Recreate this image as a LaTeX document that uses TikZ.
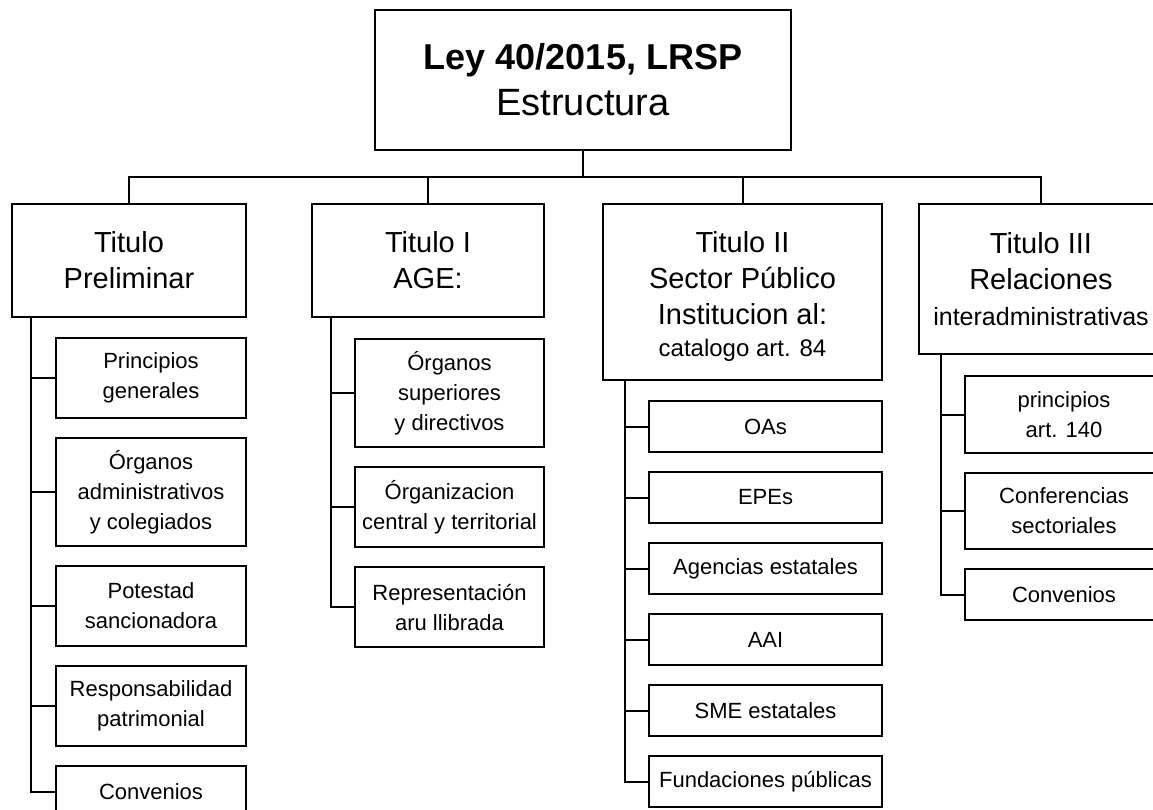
\documentclass[tikz,border=0pt]{standalone}
\usepackage{fontspec}
\setmainfont{Liberation Sans}
\usetikzlibrary{positioning}

\begin{document}
\begin{tikzpicture}[
    x=1pt, y=-1pt,
    node distance=18pt,
    line width=2pt,
    head/.style={
      rectangle,
      draw=black,
      align=center,
      minimum width=416pt,
      minimum height=140pt,
      font=\fontsize{38}{46}\selectfont
    },
    titulo/.style={
      rectangle,
      draw=black,
      align=center,
      anchor=north,
      inner sep=2pt,
      font=\fontsize{29}{36}\selectfont
    },
    item/.style={
      rectangle,
      draw=black,
      align=center,
      inner sep=2pt,
      minimum width=#1,
      minimum height=51pt,
      font=\fontsize{22}{30}\selectfont
    },
    two/.style={minimum height=80pt},
    three/.style={minimum height=108pt}
  ]

    % Frame of the picture
    \useasboundingbox (0,0) rectangle (1153,809);
    \clip (0,0) rectangle (1153,809);

    % Top: the law
    \node (ley) [head] at (583,80) {{\fontsize{36}{46}\selectfont\bfseries Ley 40/2015, LRSP}\\Estructura};

    % Second row: the four titles
    \node (preliminar) [titulo, minimum width=234pt, minimum height=113pt] at (129,203) {Titulo\\Preliminar};
    \node (age) [titulo, minimum width=232pt, minimum height=113pt] at (428,203) {Titulo I\\AGE:};
    \node (sector) [titulo, minimum width=279pt, minimum height=176pt] at (742.5,203)
      {\rule{0pt}{30pt}Titulo II\\Sector Público\\Institucion al:\\[-4pt]{\fontsize{24}{30}\selectfont catalogo art. 84}};
    \node (relaciones) [titulo, minimum width=244pt, minimum height=150pt] at (1041,203)
      {Titulo III\\Relaciones\\{\fontsize{25}{30}\selectfont interadministrativas}};

    % Titulo Preliminar
    \node (principios) [item=190pt, two, below=19pt of preliminar.south east, anchor=north east] {Principios\\generales};
    \node (organos) [item=190pt, three, below=of principios] {Órganos\\administrativos\\y colegiados};
    \node (potestad) [item=190pt, two, below=of organos] {Potestad\\sancionadora};
    \node (responsabilidad) [item=190pt, two, below=of potestad] {Responsabilidad\\patrimonial};
    \node (convenios) [item=190pt, below=of responsabilidad] {Convenios};

    % Titulo I
    \node (superiores) [item=189pt, three, below=20pt of age.south east, anchor=north east] {Órganos\\superiores\\y directivos};
    \node (organizacion) [item=189pt, two, below=of superiores] {Órganizacion\\central y territorial};
    \node (representacion) [item=189pt, two, below=of organizacion] {Representación\\aru llibrada};

    % Titulo II
    \node (oas) [item=233pt, below=19pt of sector.south east, anchor=north east] {OAs};
    \node (epes) [item=233pt, below=of oas] {EPEs};
    \node (agencias) [item=233pt, below=of epes] {Agencias estatales};
    \node (aai) [item=233pt, below=of agencias] {AAI};
    \node (sme) [item=233pt, below=of aai] {SME estatales};
    \node (fundaciones) [item=233pt, below=of sme] {Fundaciones públicas};

    % Titulo III
    \node (art140) [item=198pt, minimum height=77pt, below=20pt of relaciones.south east, anchor=north east] {principios\\art. 140};
    \node (conferencias) [item=198pt, minimum height=76pt, below=of art140] {Conferencias\\sectoriales};
    \node (convenios3) [item=198pt, below=of conferencias] {Convenios};

    % Bus from the law to the titles
    \coordinate (bus) at (0,177);
    \draw (ley.south) -- (ley.south |- bus);
    \draw (preliminar.north) -- (preliminar.north |- bus) -- (relaciones.north |- bus) -- (relaciones.north);
    \draw (age.north) -- (age.north |- bus);
    \draw (sector.north) -- (sector.north |- bus);

    % Spines down each title
    \coordinate (s1) at ([xshift=20pt]preliminar.south west);
    \draw (s1) |- (convenios.west);
    \draw (principios.west) -- (principios.west -| s1);
    \draw (organos.west) -- (organos.west -| s1);
    \draw (potestad.west) -- (potestad.west -| s1);
    \draw (responsabilidad.west) -- (responsabilidad.west -| s1);

    \coordinate (s2) at ([xshift=20pt]age.south west);
    \draw (s2) |- (representacion.west);
    \draw (superiores.west) -- (superiores.west -| s2);
    \draw (organizacion.west) -- (organizacion.west -| s2);

    \coordinate (s3) at ([xshift=23pt]sector.south west);
    \draw (s3) |- (fundaciones.west);
    \draw (oas.west) -- (oas.west -| s3);
    \draw (epes.west) -- (epes.west -| s3);
    \draw (agencias.west) -- (agencias.west -| s3);
    \draw (aai.west) -- (aai.west -| s3);
    \draw (sme.west) -- (sme.west -| s3);

    \coordinate (s4) at ([xshift=23pt]relaciones.south west);
    \draw (s4) |- (convenios3.west);
    \draw (art140.west) -- (art140.west -| s4);
    \draw (conferencias.west) -- (conferencias.west -| s4);

  \end{tikzpicture}
\end{document}
